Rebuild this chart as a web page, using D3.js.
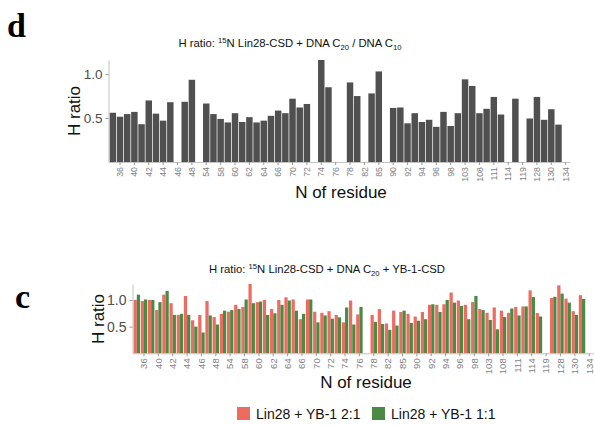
<!DOCTYPE html>
<html>
<head>
<meta charset="utf-8">
<script src="https://cdn.jsdelivr.net/npm/d3@7"></script>
<style>
body{margin:0;background:#fff;}
svg{display:block;font-family:"Liberation Sans",Arial,sans-serif;}
</style>
</head>
<body>
<svg id="fig" width="595" height="425"></svg>
<script>
// residue categories (only every other one gets a label)
var residues = ['35','36','39','40','41','42','43','44','45','46','47','48','53','54','57','58',
    '59','60','61','62','63','64','65','66','69','70','71','72','73','74','75','76',
    '77','78','81','82','84','85','89','90','91','92','93','94','95','96','97','98',
    '102','103','107','108','110','111','113','114','118','119','127','128','129','130','133','134'];
var tickLabels = ['36','40','42','44','46','48','54','58','60','62','64','66','70','72','74','76',
    '78','82','85','90','92','94','96','98','103','108','111','114','119','128','130','134'];

// panel d: DNA C20 / DNA C10
var ratioC20C10 = [0.56,0.515,0.545,0.57,0.43,0.70,0.55,0.47,0.68,null,0.685,0.935,null,0.665,0.545,0.49,
    0.45,0.555,0.455,0.51,0.45,0.47,0.525,0.585,0.555,0.72,0.62,0.66,null,1.16,0.85,null,
    null,0.905,0.75,null,0.78,1.03,null,0.615,0.62,0.44,0.555,0.455,0.48,0.40,0.57,0.41,
    0.555,0.94,0.865,0.555,0.605,0.74,0.54,null,0.72,null,0.495,0.74,0.48,0.60,0.425,null];

// panel c: DNA C20 + YB-1-CSD
var ratioYB21 = [1.00,0.98,1.00,0.81,1.10,0.94,0.72,1.075,0.62,0.72,0.98,0.68,0.74,0.78,0.91,0.87,
    1.30,0.96,1.00,0.83,1.00,1.05,1.01,0.64,1.01,0.78,0.76,0.79,0.72,0.58,0.99,0.73,
    null,0.72,0.83,0.56,0.80,0.775,0.74,0.69,0.775,0.91,0.91,0.92,1.14,0.99,0.91,0.96,
    0.83,0.76,0.86,0.80,0.76,0.87,0.88,1.18,0.755,null,1.04,1.275,1.025,0.79,1.09,null];
var ratioYB11 = [1.10,1.01,1.00,0.96,1.17,0.72,0.74,0.72,0.50,0.39,0.71,0.54,0.80,0.81,0.83,1.01,
    0.94,0.97,0.72,0.75,0.91,0.99,0.80,0.74,1.01,0.58,0.71,0.65,0.675,0.86,0.54,0.87,
    null,0.59,0.55,0.44,0.52,0.80,0.57,0.61,0.64,0.92,0.775,1.00,0.95,0.89,0.64,1.075,
    0.81,0.625,0.45,0.68,0.84,0.71,0.88,1.055,0.69,null,1.06,1.12,0.95,0.72,1.02,null];

var seriesNames = ['Lin28 + YB-1 2:1','Lin28 + YB-1 1:1'];
var seriesColours = ['#EE6B5F','#4B8A45'];
var yTicks = [0.5, 1.0];

var svg = d3.select('#fig');

function styleAxes(g, xAxisG, yAxisG, xFont, yFont){
    g.selectAll('.domain').attr('stroke','#c4c4c4').attr('stroke-width',1);
    g.selectAll('.tick line').attr('stroke','#9a9a9a');
    xAxisG.selectAll('text')
        .attr('transform','rotate(-90)')
        .attr('text-anchor','end')
        .attr('x',-5)
        .attr('y',0)
        .attr('dy','0.35em')
        .attr('fill','#7f7f7f')
        .style('font-size',xFont+'px');
    yAxisG.selectAll('text')
        .attr('fill','#4d4d4d')
        .style('font-size',yFont+'px');
}

function titleText(sel, x, y, size, tail){
    var t = sel.append('text')
        .attr('x',x).attr('y',y)
        .attr('text-anchor','middle')
        .style('font-size',size+'px')
        .attr('fill','#111');
    var small = size*0.68;
    t.append('tspan').text('H ratio: ');
    t.append('tspan').text('15').style('font-size',small+'px').attr('dy',-size*0.35);
    t.append('tspan').text('N Lin28-CSD + DNA C').attr('dy',size*0.35);
    t.append('tspan').text('20').style('font-size',small+'px').attr('dy',size*0.25);
    tail.forEach(function(part){
        t.append('tspan').text(part[0]).attr('dy',part[1]*size)
            .style('font-size',(part[2] ? small : size)+'px');
    });
}

function yLabel(x, y, size){
    svg.append('text')
        .attr('transform','translate('+x+','+y+') rotate(-90)')
        .attr('text-anchor','middle')
        .style('font-size',size+'px')
        .attr('fill','#111')
        .text('H ratio');
}

function xLabel(x, y, size){
    svg.append('text')
        .attr('x',x).attr('y',y)
        .attr('text-anchor','middle')
        .style('font-size',size+'px')
        .attr('fill','#111')
        .text('N of residue');
}

//---------- panel d ----------
var xTop = d3.scaleBand().domain(residues).range([108.5,570]).paddingInner(0.1).paddingOuter(0.15);
var yTop = d3.scaleLinear().domain([0, d3.max(ratioC20C10)]).range([162,60]);

var gTop = svg.append('g');
gTop.selectAll('rect')
    .data(residues.map(function(r,i){ return {res:r, v:ratioC20C10[i]}; }).filter(function(d){ return d.v != null; }))
    .enter()
    .append('rect')
        .attr('x',function(d){ return xTop(d.res); })
        .attr('width',xTop.bandwidth())
        .attr('y',function(d){ return yTop(d.v); })
        .attr('height',function(d){ return yTop(0) - yTop(d.v); })
        .attr('fill','#505050');

var xAxTop = gTop.append('g').attr('transform','translate(0,'+yTop(0)+')')
    .call(d3.axisBottom(xTop).tickValues(tickLabels).tickSize(3).tickSizeOuter(0));
var yAxTop = gTop.append('g').attr('transform','translate(108.5,0)')
    .call(d3.axisLeft(yTop).tickValues(yTicks).tickFormat(d3.format('.1f')).tickSize(3).tickSizeOuter(0));
styleAxes(gTop, xAxTop, yAxTop, 8.8, 13.5);

titleText(svg, 290, 47, 11.3, [[' / DNA C',-0.25,false],['10',0.25,true]]);
yLabel(80, 111, 17);
xLabel(341, 198, 17);

//---------- panel c ----------
var xBot = d3.scaleBand().domain(residues).range([132.5,593.5]).paddingInner(0.1).paddingOuter(0.15);
var xSeries = d3.scaleBand().domain([0,1]).range([0, xBot.bandwidth()]);
var yBot = d3.scaleLinear().domain([0, d3.max(ratioYB21.concat(ratioYB11))]).range([353.3,284]);

var gBot = svg.append('g');
[ratioYB21, ratioYB11].forEach(function(series, s){
    gBot.append('g')
        .selectAll('rect')
        .data(residues.map(function(r,i){ return {res:r, v:series[i]}; }).filter(function(d){ return d.v != null; }))
        .enter()
        .append('rect')
            .attr('x',function(d){ return xBot(d.res) + xSeries(s); })
            .attr('width',xSeries.bandwidth())
            .attr('y',function(d){ return yBot(d.v); })
            .attr('height',function(d){ return yBot(0) - yBot(d.v); })
            .attr('fill',seriesColours[s]);
});

var xAxBot = gBot.append('g').attr('transform','translate(0,'+yBot(0)+')')
    .call(d3.axisBottom(xBot).tickValues(tickLabels).tickSize(3).tickSizeOuter(0));
var yAxBot = gBot.append('g').attr('transform','translate(132.5,0)')
    .call(d3.axisLeft(yBot).tickValues(yTicks).tickFormat(d3.format('.1f')).tickSize(3).tickSizeOuter(0));
styleAxes(gBot, xAxBot, yAxBot, 9.5, 14);

titleText(svg, 327, 273, 11.3, [[' + YB-1-CSD',-0.25,false]]);
yLabel(103.5, 319, 17);
xLabel(366, 388, 17);

//legend
var legend = svg.append('g').attr('transform','translate(237,407)');
var legendX = [0, 135];
seriesNames.forEach(function(name, i){
    var item = legend.append('g').attr('transform','translate('+legendX[i]+',0)');
    item.append('rect').attr('width',13).attr('height',13).attr('fill',seriesColours[i]);
    item.append('text').attr('x',19).attr('y',12)
        .style('font-size','14px').attr('fill','#111').text(name);
});

//panel letters
svg.append('text').attr('x',7).attr('y',37)
    .style('font-family','"Liberation Serif","Times New Roman",serif')
    .style('font-weight','bold').style('font-size','34px').text('d');
svg.append('text').attr('x',15).attr('y',308)
    .style('font-family','"Liberation Serif","Times New Roman",serif')
    .style('font-weight','bold').style('font-size','34px').text('c');
</script>
</body>
</html>
